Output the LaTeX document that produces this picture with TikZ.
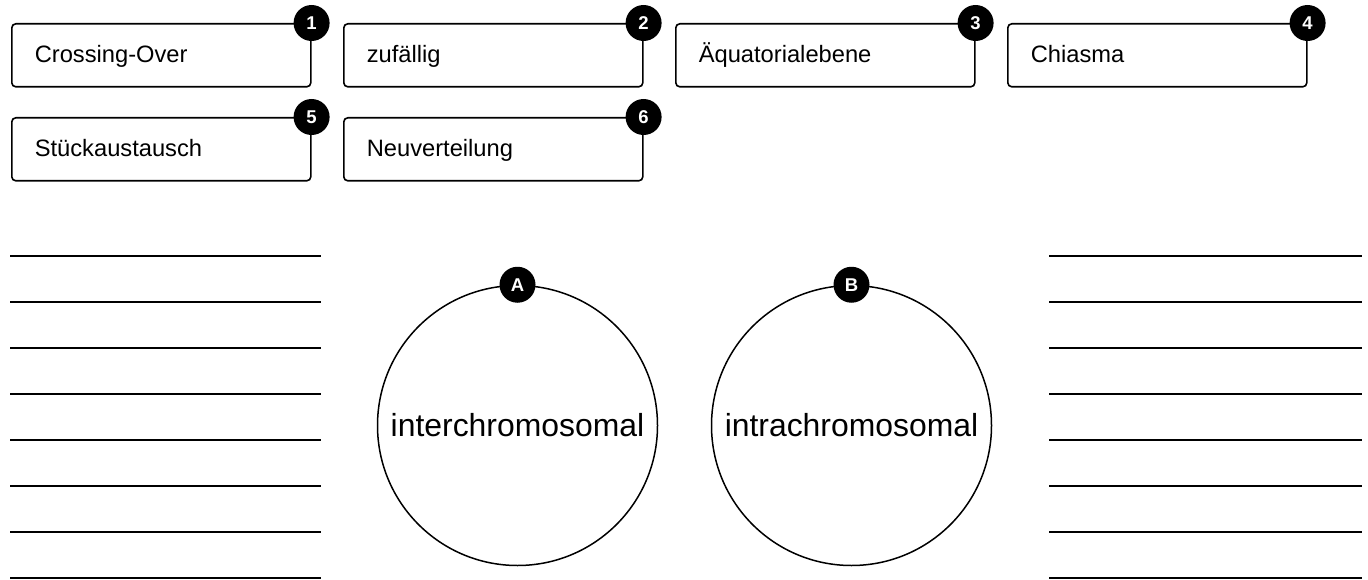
\documentclass[tikz,border=0pt]{standalone}
\usepackage{fontspec}
\setmainfont{Liberation Sans}
\usetikzlibrary{positioning}

\begin{document}
\begin{tikzpicture}[x=1pt,y=-1pt,node distance=31.4pt,
                    font=\fontsize{23.7}{28}\selectfont]
					\tikzstyle{term}=[draw,line width=1.6pt,rounded corners=4pt,minimum height=63pt,
					                  text width=253pt,inner xsep=23pt,align=left,
					                  text height=20pt,text depth=5pt]
					\tikzstyle{badge}=[circle,fill=black,text=white,inner sep=0pt,minimum size=36pt,
					                   font=\fontsize{18.5}{18.5}\selectfont\bfseries]
					\tikzstyle{group}=[draw,circle,line width=1.5pt,minimum size=280pt,
					                   font=\fontsize{31.9}{36}\selectfont]
					\tikzstyle{writeline}=[line width=2.8pt]
					
					\useasboundingbox (0,0) rectangle (1368,580);
					
					% term cards
					\node[term,anchor=north west] (T_1) at (11,23) {Crossing-Over};
					\node[term]  (T_2) [right=of T_1]  {zufällig};
					\node[term]  (T_3) [right=of T_2]  {Äquatorialebene};
					\node[term]  (T_4) [right=of T_3]  {Chiasma};
					\node[term]  (T_5) [below=29.4pt of T_1]  {Stückaustausch};
					\node[term]  (T_6) [right=of T_5]  {Neuverteilung};
					
					\foreach \i in {1,...,6}
					  \node[badge] (N_\i) at (T_\i.north east) {\i};
					
					% recombination types
					\node[group] (R_A) at (517.5,425.5) {interchromosomal};
					\node[group] (R_B) at (851.5,425.5) {intrachromosomal};
					\node[badge] (L_A) at (R_A.north) {A};
					\node[badge] (L_B) at (R_B.north) {B};
					
					% answer lines
					\foreach \k in {0,...,7} {
					  \draw[writeline] (10,256+46*\k) -- (321,256+46*\k);
					  \draw[writeline] (1049,256+46*\k) -- (1362,256+46*\k);
					}
\end{tikzpicture}
\end{document}
